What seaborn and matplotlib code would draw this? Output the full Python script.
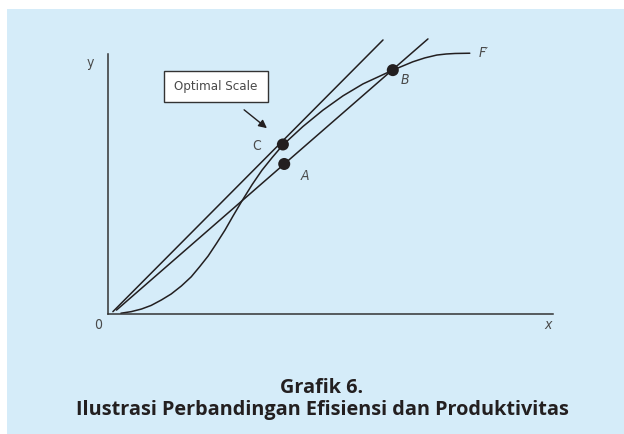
import numpy as np
import pandas as pd
import matplotlib
matplotlib.use('Agg')
import matplotlib.pyplot as plt
from matplotlib.patches import Rectangle
import seaborn as sns

sns.set_style('white')
plt.rcParams['font.family'] = ['DejaVu Sans']

# production curve F' (axis units 0..10)
curve_x = [0.29, 0.52, 0.75, 0.97, 1.20, 1.42, 1.65, 1.87, 2.06, 2.25, 2.44, 2.63, 2.81, 3.00,
           3.24, 3.46, 3.69, 3.93, 4.38, 4.83, 5.28, 5.73, 6.40,
           6.85, 7.12, 7.39, 7.60, 7.80, 8.13]
curve_y = [0.03, 0.09, 0.19, 0.33, 0.54, 0.77, 1.08, 1.43, 1.82, 2.23, 2.72, 3.23, 3.77, 4.32,
           4.98, 5.53, 6.02, 6.50, 7.21, 7.84, 8.39, 8.85, 9.38,
           9.70, 9.85, 9.96, 10.00, 10.02, 10.03]

# rays from the origin
ray_c_x = [0.11, 6.18]
ray_c_y = [0.09, 10.54]
ray_ab_x = [0.19, 7.19]
ray_ab_y = [0.15, 10.58]

# marked points
pt_names = ['C', 'A', 'B']
pt_x = [3.93, 3.96, 6.40]
pt_y = [6.52, 5.77, 9.38]

BG = '#d5ecf9'
INK = '#231f20'
GREY = '#4a4a4a'

fig = plt.figure(figsize=(6.24, 4.34), dpi=100)
fig.patch.set_facecolor('white')
fig.patches.append(Rectangle((7 / 624, 0), 1, 1 - 9 / 434, transform=fig.transFigure,
                             facecolor=BG, edgecolor='none', zorder=-10))

ax = fig.add_axes([108 / 624, 1 - 314 / 434, 445 / 624, 284 / 434])
ax.set_facecolor('none')
ax.set_xlim(0, 10)
ax.set_ylim(0, 284 / 26)

df_curve = pd.DataFrame({'x': curve_x, 'y': curve_y})
sns.lineplot(data=df_curve, x='x', y='y', sort=False, color=INK, lw=1.1, ax=ax, clip_on=False)
sns.lineplot(x=ray_c_x, y=ray_c_y, sort=False, color=INK, lw=1.1, ax=ax, clip_on=False)
sns.lineplot(x=ray_ab_x, y=ray_ab_y, sort=False, color=INK, lw=1.1, ax=ax, clip_on=False)
sns.scatterplot(x=pt_x, y=pt_y, color=INK, s=75, edgecolor='none', ax=ax, zorder=5, clip_on=False)

for s in ['top', 'right']:
    ax.spines[s].set_visible(False)
for s in ['left', 'bottom']:
    ax.spines[s].set_color('#333333')
    ax.spines[s].set_linewidth(1.1)
ax.spines['left'].set_bounds(0, 10)
ax.set_xticks([])
ax.set_yticks([])
ax.set_xlabel('')
ax.set_ylabel('')

lab = dict(color=GREY, fontsize=10, fontstretch='condensed', ha='center', va='center')
ax.text(-0.40, 9.65, 'y', **lab)
ax.text(-0.22, -0.42, '0', **lab)
ax.text(9.89, -0.42, 'x', style='italic', **lab)
ax.text(3.35, 6.46, 'C', **lab)
ax.text(4.43, 5.31, 'A', style='italic', **lab)
ax.text(6.67, 9.00, 'B', style='italic', **lab)
ax.text(8.45, 10.04, "F\u2032", style='italic', **lab)

# label box and arrow
ax.add_patch(Rectangle((1.26, 8.15), 2.34, 1.20, facecolor='white', edgecolor='#333333', lw=1.0,
                       clip_on=False, zorder=6))
ax.text(2.43, 8.75, 'Optimal Scale', color=GREY, fontsize=9.5, fontstretch='condensed',
        ha='center', va='center', zorder=7)
ax.annotate('', xy=(3.62, 7.08), xytext=(3.01, 7.92),
            arrowprops=dict(arrowstyle='-|>', color=INK, lw=1.0, mutation_scale=12))

fig.text(322 / 624, 1 - 388 / 434, 'Grafik 6.', ha='center', va='center',
         fontsize=14.3, fontweight='bold', color=INK, family='Open Sans')
fig.text(322 / 624, 1 - 410 / 434, 'Ilustrasi Perbandingan Efisiensi dan Produktivitas',
         ha='center', va='center', fontsize=14.3, fontweight='bold', color=INK, family='Open Sans')

fig.savefig('out.png', dpi=100, facecolor=fig.get_facecolor())
